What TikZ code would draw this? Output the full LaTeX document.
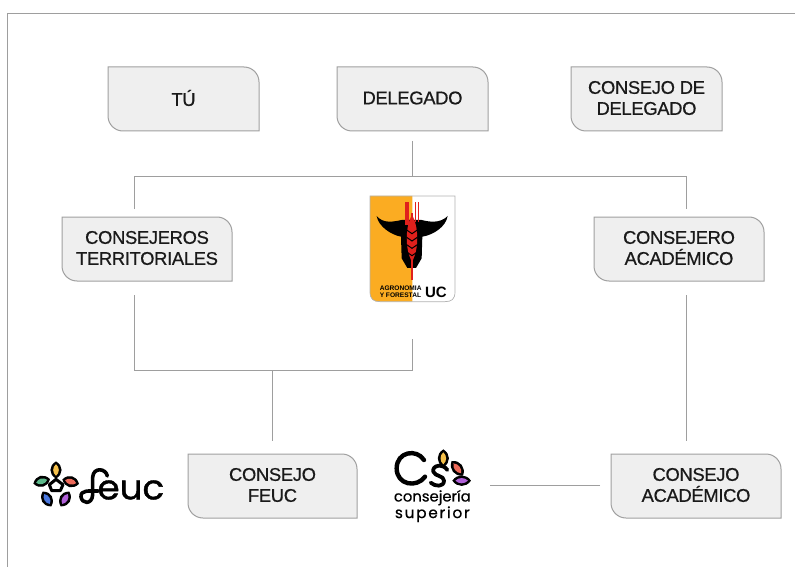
\documentclass[tikz,border=0pt]{standalone}
\usepackage{fontspec}
\setmainfont{Liberation Sans}
\newfontfamily\boxf{Liberation Sans}[FakeBold=0.6,LetterSpace=-1.8]
\newfontfamily\popf{Poppins}[FakeBold=1.2]
\newfontfamily\popa{Poppins}[FakeBold=0.5]
\newfontfamily\popb{Poppins}[FakeBold=0.5,LetterSpace=11]
\definecolor{linegray}{HTML}{9E9E9E}
\definecolor{boxfill}{HTML}{EFEFEF}
\definecolor{boxline}{HTML}{A0A0A0}
\definecolor{textdark}{HTML}{1A1A1A}
\definecolor{shorange}{HTML}{FBAC22}
\definecolor{shred}{HTML}{E0201C}
\definecolor{pyellow}{HTML}{F5C04A}
\definecolor{pred}{HTML}{EE6A5A}
\definecolor{ppurple}{HTML}{B060D8}
\definecolor{pblue}{HTML}{4A78E0}
\definecolor{pgreen}{HTML}{5CB98A}
\tikzset{
  x=1pt,y=-1pt,
  boxshape/.style={fill=boxfill,draw=boxline,line width=1pt},
  boxtext/.style={inner sep=0pt,outer sep=0pt,align=center,text=textdark,font=\boxf\fontsize{18.4}{21}\selectfont},
  link/.style={draw=linegray,line width=1pt},
  frameline/.style={draw=linegray,line width=1.2pt},
  petal/.style={fill=black,draw=black,line width=1pt},
  logostroke/.style={draw=black,line cap=round,line join=round},
}
\newcommand{\flowbox}[6]{% name, x1,y1,x2,y2,text
  \path[boxshape] (#2,#3) -- (#4-15,#3) arc[start angle=90,end angle=0,x radius=15,y radius=-15]
    -- (#4,#5) -- (#2+15,#5) arc[start angle=270,end angle=180,x radius=15,y radius=-15] -- cycle;
  \node[boxtext,minimum width=#4-#2,minimum height=#5-#3] (#1) at ({(#2+#4)/2},{(#3+#5)/2-1}) {#6};
}
% petal: centre x,y, rotation, half length, half width, colour
\newcommand{\lens}[6]{%
  \begin{scope}[shift={(#1,#2)},rotate=#3]
    \path[petal] (0,-#4) .. controls (#5*1.35,-#4*.5) and (#5*1.35,#4*.5) .. (0,#4)
       .. controls (-#5*1.35,#4*.5) and (-#5*1.35,-#4*.5) .. (0,-#4) -- cycle;
    \path[fill=#6] (0,-#4*.72) .. controls (#5*.75,-#4*.35) and (#5*.75,#4*.35) .. (0,#4*.72)
       .. controls (-#5*.75,#4*.35) and (-#5*.75,-#4*.35) .. (0,-#4*.72) -- cycle;
  \end{scope}
}
\begin{document}
\begin{tikzpicture}
\useasboundingbox (0,0) rectangle (795,567);
\draw[frameline] (7.5,567) -- (7.5,13.5) -- (795,13.5);

\flowbox{tu}{108}{67}{259}{131}{TÚ}
\flowbox{delegado}{337}{67}{488}{131}{DELEGADO}
\flowbox{consdel}{571}{67}{722}{131}{CONSEJO DE\\DELEGADO}
\flowbox{territ}{62}{217}{232}{281}{CONSEJEROS\\TERRITORIALES}
\flowbox{academico}{594}{217}{764}{281}{CONSEJERO\\ACADÉMICO}
\flowbox{feucbox}{188}{454}{357}{518}{CONSEJO\\FEUC}
\flowbox{consacad}{611}{454}{781}{518}{CONSEJO\\ACADÉMICO}

% shield logo
\begin{scope}[shift={(350,180)},scale=0.3333]
  \path[fill=white] (187,48) -- (315,48) -- (315,335) .. controls (315,358) and (305,365) .. (285,365) -- (187,365) -- cycle;
  \path[fill=shorange] (60,48) -- (187,48) -- (187,365) -- (90,365) .. controls (70,365) and (60,358) .. (60,335) -- cycle;
  \draw[draw=gray!60,line width=0.7pt] (60,48) -- (315,48) -- (315,335) .. controls (315,358) and (305,365) .. (285,365) -- (90,365) .. controls (70,365) and (60,358) .. (60,335) -- cycle;
  \path[fill=black] (80,108) .. controls (85,140) and (125,165) .. (153,170) -- (155,235) -- (172,264) -- (198,264) -- (215,235) -- (217,170)
     .. controls (250,165) and (288,140) .. (293,108) .. controls (270,132) and (235,125) .. (215,120) -- (155,120) .. controls (130,125) and (100,132) .. (80,108) -- cycle;
  \path[fill=shred] (164,65) rectangle (177,135);
  \path[fill=shred] (195,65) rectangle (198,125);
  \path[fill=shred] (203,65) rectangle (206,125);
  \path[fill=shred] (183,100) rectangle (189,300);
  \path[fill=shred] (186,105) .. controls (207,140) and (207,210) .. (186,245) .. controls (165,210) and (165,140) .. (186,105) -- cycle;
  \foreach \yy in {150,172,194,216}{
    \draw[black,line width=1pt] (170,\yy) -- (186,\yy+11) -- (202,\yy);
  }
  \node[inner sep=0pt,font=\bfseries\fontsize{6.6}{7}\selectfont,align=left,text=black] (agrotext) at (152,335) {AGRONOMIA\\Y FORESTAL};
  \node[inner sep=0pt,font=\bfseries\fontsize{15}{15}\selectfont,text=black] (uctext) at (258,336) {UC};
  \coordinate (shieldbottom) at (187,365);
\end{scope}

% feuc logo
\begin{scope}[shift={(20,440)},scale=0.3333]
  \lens{108}{90}{0}{24}{15}{pyellow}
  \lens{152}{125}{75}{24}{15}{pred}
  \lens{135}{177}{-30}{24}{15}{ppurple}
  \lens{81}{177}{30}{24}{15}{pblue}
  \lens{65}{124}{-75}{24}{15}{pgreen}
  \draw[logostroke,line width=3pt] (108,118) -- (88,134) -- (95,152) -- (121,152) -- (129,134) -- cycle;
  \draw[logostroke,line width=3.6pt] (262,108) .. controls (258,85) and (220,80) .. (218,112) -- (218,165)
     .. controls (216,195) and (185,192) .. (183,170) .. controls (182,150) and (205,153) .. (235,153);
  \node[inner sep=0pt,anchor=west,font=\popf\fontsize{34}{34}\selectfont,xscale=1.05,text=black] (euctext) at (232,150) {euc};
\end{scope}

% consejeria superior logo
\begin{scope}[shift={(380,440)},scale=0.3333]
  \draw[logostroke,line width=4.4pt] (132,60) .. controls (110,25) and (50,35) .. (50,85) .. controls (50,135) and (110,145) .. (135,110);
  \draw[logostroke,line width=3.8pt] (202,90) .. controls (190,70) and (155,75) .. (160,95) .. controls (165,110) and (192,106) .. (192,122) .. controls (192,142) and (165,140) .. (152,128);
  \lens{190}{55}{0}{25}{15}{pyellow}
  \lens{232}{85}{38}{26}{15}{pred}
  \lens{245}{122}{90}{26}{14}{ppurple}
  \node[inner sep=0pt,text=black,align=center] (cstext) at (157,198) {{\popa\fontsize{14.8}{16}\selectfont consejería}\\[0pt]{\popb\fontsize{15.4}{16}\selectfont superior}};
\end{scope}

% connectors
\coordinate (busL) at ([xshift=-13]territ.north |- 0,176);
\coordinate (busR) at ([xshift=7]academico.north |- 0,176);
\coordinate (busM) at (delegado.south |- 0,176);
\path[link] ([yshift=-11]delegado.south) -- (busM);
\path[link] ([xshift=-13,yshift=7]territ.north) -- (busL) -- (busR) -- ([xshift=7,yshift=7]academico.north);
\coordinate (joinL) at ([xshift=-13]territ.south |- 0,370);
\coordinate (joinR) at (shieldbottom |- 0,370);
\coordinate (joinM) at (feucbox.north |- 0,370);
\path[link] ([xshift=-13,yshift=-15]territ.south) -- (joinL) -- (joinR) -- ([yshift=-37]shieldbottom);
\path[link] (joinM) -- ([yshift=12]feucbox.north);
\path[link] ([xshift=7,yshift=-15]academico.south) -- ([xshift=7,yshift=-161]academico.south);
\path[link] ([xshift=-11]consacad.west) -- ([xshift=-121]consacad.west);
\end{tikzpicture}
\end{document}
